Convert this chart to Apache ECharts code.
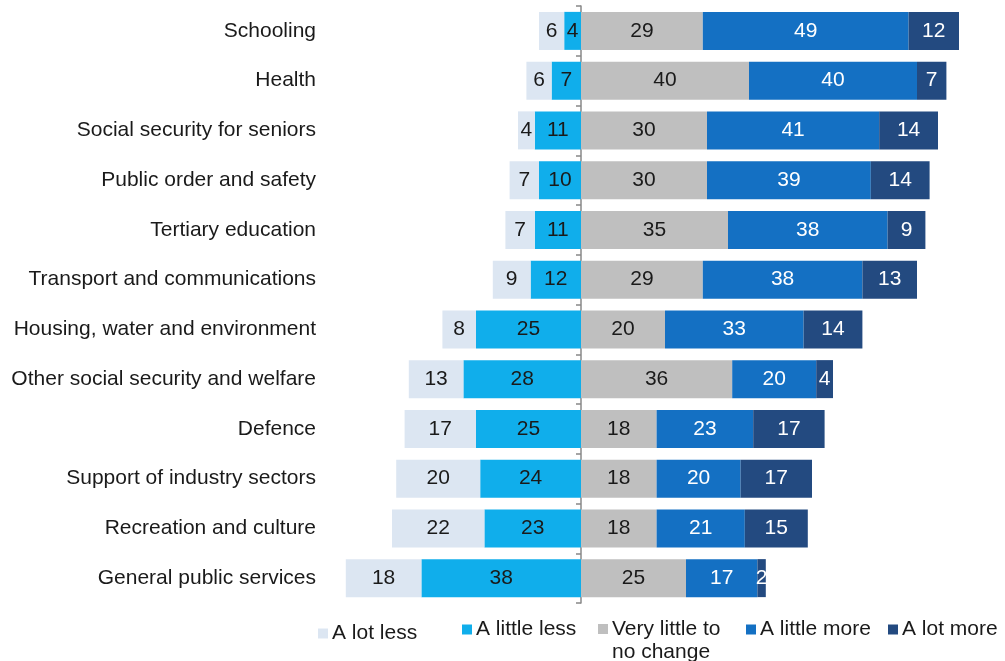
<!DOCTYPE html>
<html>
<head>
<meta charset="utf-8">
<script src="https://cdn.jsdelivr.net/npm/echarts@6/dist/echarts.min.js"></script>
<style>html,body{margin:0;padding:0;background:#fff}#c{width:1005px;height:661px}</style>
</head>
<body>
<div id="c"></div>
<script>
const categories = ["Schooling","Health","Social security for seniors","Public order and safety","Tertiary education","Transport and communications","Housing, water and environment","Other social security and welfare","Defence","Support of industry sectors","Recreation and culture","General public services"];
const aLotLess     = [6, 6, 4, 7, 7, 9, 8, 13, 17, 20, 22, 18];
const aLittleLess  = [4, 7, 11, 10, 11, 12, 25, 28, 25, 24, 23, 38];
const veryLittle   = [29, 40, 30, 30, 35, 29, 20, 36, 18, 18, 18, 25];
const aLittleMore  = [49, 40, 41, 39, 38, 38, 33, 20, 23, 20, 21, 17];
const aLotMore     = [12, 7, 14, 14, 9, 13, 14, 4, 17, 17, 15, 2];
const seriesNames  = ["A lot less", "A little less", "Very little to\nno change", "A little more", "A lot more"];

const FONT = "'Liberation Sans', Arial, sans-serif";
const colors = ["#dce6f2", "#10aeeb", "#bfbfbf", "#1470c3", "#234a80"];
const labelColors = ["#1a1a1a", "#1a1a1a", "#1a1a1a", "#ffffff", "#ffffff"];

function mkSeries(name, data, idx, neg) {
  return {
    name: name, type: 'bar', stack: 'total', barWidth: 38,
    data: data.map(v => neg ? -v : v),
    itemStyle: { color: colors[idx] },
    label: { show: true, position: 'inside', color: labelColors[idx], fontSize: 21, fontFamily: FONT,
      formatter: p => Math.abs(p.value) },
    emphasis: { disabled: true }
  };
}

const series = [
  mkSeries(seriesNames[1], aLittleLess, 1, true),
  mkSeries(seriesNames[0], aLotLess, 0, true),
  mkSeries(seriesNames[2], veryLittle, 2, false),
  mkSeries(seriesNames[3], aLittleMore, 3, false),
  mkSeries(seriesNames[4], aLotMore, 4, false)
];

function mkLegend(name, left, top, icon, iw, ih) {
  return {
    data: [name], left: left, top: top, padding: 0, orient: 'horizontal',
    icon: icon, itemWidth: iw, itemHeight: ih, itemGap: 0, selectedMode: false,
    textStyle: { fontSize: 21, fontFamily: FONT, color: '#1a1a1a', lineHeight: 23, padding: [0,0,0,-1] }
  };
}

const chart = echarts.init(document.getElementById('c'), null, { renderer: 'canvas' });
chart.setOption({
  animation: false,
  backgroundColor: '#fff',
  grid: { left: 329, right: 4, top: 6, bottom: 58, containLabel: false, outerBoundsMode: 'none' },
  xAxis: { type: 'value', min: -60, max: 100, show: false },
  yAxis: {
    type: 'category', data: categories, inverse: true, position: 'left',
    axisLine: { show: true, onZero: true, lineStyle: { color: '#888888', width: 1.5 } },
    axisTick: { show: true, length: 5, lineStyle: { color: '#888888', width: 1.5 } },
    axisLabel: { margin: 13, fontSize: 21, fontFamily: FONT, color: '#1a1a1a' },
    splitLine: { show: false }
  },
  legend: [
    mkLegend(seriesNames[0], 318, 622, 'rect', 10, 10),
    mkLegend(seriesNames[1], 462, 618, 'rect', 10, 10),
    mkLegend(seriesNames[2], 598, 618, 'path://M0,0L10,0L10,10L0,10Z M0,34L0,34Z', 10, 34),
    mkLegend(seriesNames[3], 746, 618, 'rect', 10, 10),
    mkLegend(seriesNames[4], 888, 618, 'rect', 10, 10)
  ],
  series: series
});
</script>
</body>
</html>
